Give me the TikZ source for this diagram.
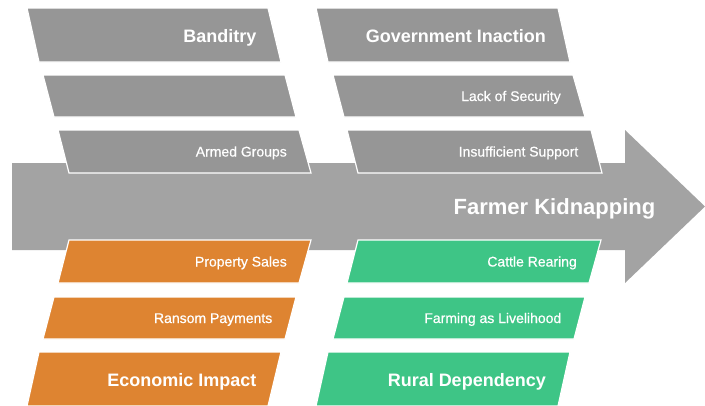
\documentclass[tikz,border=0pt]{standalone}
\usepackage{fontspec}
\setmainfont{Liberation Sans}
\newfontfamily\medfont[FakeBold=0.6]{Liberation Sans}
\definecolor{arrowgray}{HTML}{A3A3A3}
\definecolor{boxgray}{HTML}{969696}
\definecolor{orng}{HTML}{DE8431}
\definecolor{grn}{HTML}{3EC586}
\tikzset{
  bandbox/.style={draw=white, line width=1.2pt, line join=miter},
  biglabel/.style={font=\fontsize{18}{20}\selectfont\bfseries, text=white, inner sep=0pt, anchor=base east},
  smalllabel/.style={font=\medfont\fontsize{14}{16}\selectfont, text=white, inner sep=0pt, anchor=base east},
  headlabel/.style={font=\fontsize{22}{24}\selectfont\bfseries, text=white, inner sep=0pt, anchor=base},
}
\newcommand{\bandshape}[8]{%
  \path[fill=#8, bandbox] (#4,#2) -- (#6,#2) -- (#7,#3) -- (#5,#3) -- cycle;
  \pgfmathsetmacro{\bandx}{(#6+#7)/2-18}
  \pgfmathsetmacro{\bandy}{(#2+#3)/2}
  \coordinate (#1) at (\bandx,\bandy);
}
\begin{document}
\begin{tikzpicture}[x=1pt,y=-1pt]
\useasboundingbox (0,0) rectangle (705,405);
% spine arrow
\fill[arrowgray] (12,163) -- (625,163) -- (625,130) -- (705,206.5) -- (625,283) -- (625,250) -- (12,250) -- cycle;
\node[headlabel] (fk) at (554.5,214) {Farmer Kidnapping};
% top left
\bandshape{A1}{8}{62}{27}{39}{268}{281}{boxgray}
\bandshape{A2}{75}{117}{43}{54}{285}{296}{boxgray}
\bandshape{A3}{130}{173}{58}{69}{299}{311}{boxgray}
% top right
\bandshape{B1}{8}{62}{316}{328}{558}{570}{boxgray}
\bandshape{B2}{75}{117}{333}{344}{573}{585}{boxgray}
\bandshape{B3}{130}{173}{347}{358}{591}{602}{boxgray}
% bottom left
\bandshape{C1}{240}{283}{69}{58}{311}{299}{orng}
\bandshape{C2}{297}{339}{54}{43}{296}{285}{orng}
\bandshape{C3}{352}{406}{39}{27}{281}{268}{orng}
% bottom right
\bandshape{D1}{240}{283}{358}{347}{601}{589}{grn}
\bandshape{D2}{297}{339}{344}{333}{585}{574}{grn}
\bandshape{D3}{352}{406}{328}{316}{570}{558}{grn}
% labels
\node[biglabel] (banditry) at ([yshift=-7pt]A1) {Banditry};
\node[smalllabel] (armed) at ([yshift=-5pt]A3) {Armed Groups};
\node[biglabel] (gov) at ([yshift=-7pt]B1) {Government Inaction};
\node[smalllabel] (lack) at ([yshift=-5pt]B2) {Lack of Security};
\node[smalllabel] (insuff) at ([yshift=-5pt]B3) {Insufficient Support};
\node[smalllabel] (prop) at ([yshift=-5pt]C1) {Property Sales};
\node[smalllabel] (ransom) at ([yshift=-5pt]C2) {Ransom Payments};
\node[biglabel] (econ) at ([yshift=-7pt]C3) {Economic Impact};
\node[smalllabel] (cattle) at ([yshift=-5pt]D1) {Cattle Rearing};
\node[smalllabel] (farming) at ([yshift=-5pt]D2) {Farming as Livelihood};
\node[biglabel] (rural) at ([yshift=-7pt]D3) {Rural Dependency};
\end{tikzpicture}
\end{document}
